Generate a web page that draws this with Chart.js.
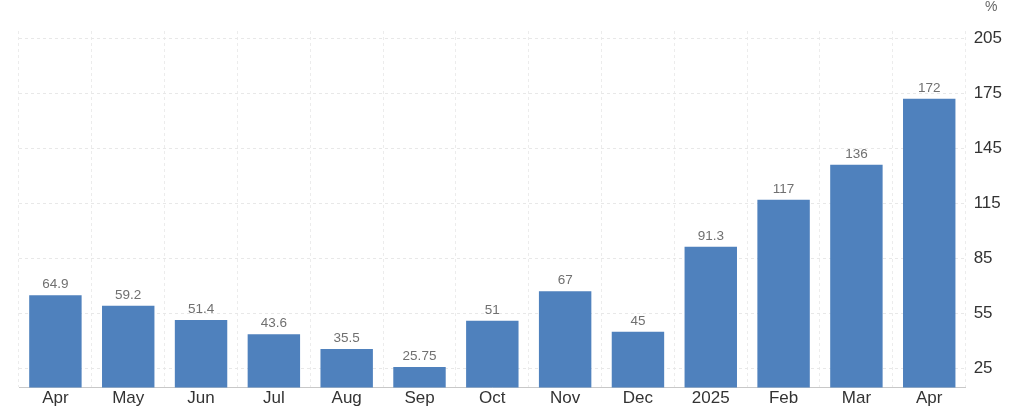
<!DOCTYPE html>
<html><head><meta charset="utf-8">
<script src="https://cdn.jsdelivr.net/npm/chart.js@4"></script>
<style>html,body{margin:0;padding:0;background:#fff}#w{width:1021px;height:417px;position:relative}</style>
</head><body><div id="w"><canvas id="c"></canvas></div>
<script>
const categories=["Apr","May","Jun","Jul","Aug","Sep","Oct","Nov","Dec","2025","Feb","Mar","Apr"];
const values=[64.9,59.2,51.4,43.6,35.5,25.75,51,67,45,91.3,117,136,172];
const labels=["64.9","59.2","51.4","43.6","35.5","25.75","51","67","45","91.3","117","136","172"];
const yTicks=[25,55,85,115,145,175,205];
const valueLabels={id:'vl',afterDatasetsDraw(ch){const m=ch.getDatasetMeta(0),x=ch.ctx;x.save();x.fillStyle='#707070';x.font='13.5px Arial, "Liberation Sans"';x.textAlign='center';x.textBaseline='bottom';m.data.forEach((b,i)=>x.fillText(labels[i],b.x,b.y-4));x.restore();}};
const pct={id:'pct',afterDraw(ch){const x=ch.ctx;x.save();x.fillStyle='#666';x.font='14px Arial, "Liberation Sans"';x.textAlign='left';x.textBaseline='top';x.fillText('%',985,0);x.restore();}};
new Chart(document.getElementById('c'),{type:'bar',
data:{labels:categories,datasets:[{data:values,backgroundColor:'#4f81bd',categoryPercentage:1,barPercentage:0.72}]},
options:{responsive:true,maintainAspectRatio:false,animation:false,
layout:{padding:{left:19,right:11,top:31,bottom:7}},
plugins:{legend:{display:false},tooltip:{enabled:false}},
scales:{
x:{grid:{color:'#ececec',tickLength:0,drawTicks:false},border:{color:'#c8c8c8',dash:[3,3]},ticks:{color:'#333',font:{size:17,family:'Arial, "Liberation Sans"'},padding:1}},
y:{position:'right',min:14.5,max:209,afterBuildTicks(a){a.ticks=yTicks.map(v=>({value:v}))},
grid:{color:'#e8e8e8',drawTicks:false},border:{display:false,dash:[3,3]},
ticks:{color:'#333',font:{size:17,family:'Arial, "Liberation Sans"'},padding:8}}}},
plugins:[valueLabels,pct]});
</script></body></html>
